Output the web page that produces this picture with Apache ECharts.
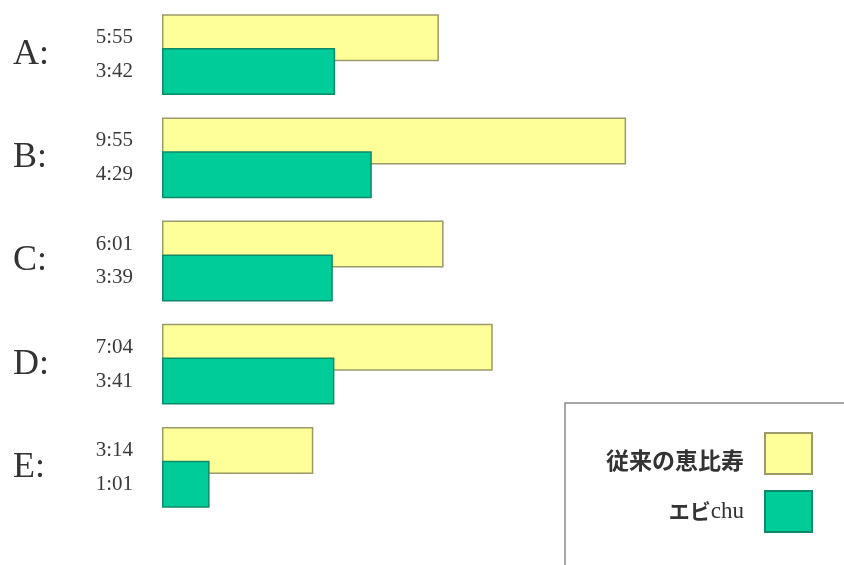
<!DOCTYPE html>
<html>
<head>
<meta charset="utf-8">
<script src="https://cdn.jsdelivr.net/npm/echarts@6/dist/echarts.min.js"></script>
<style>
  html, body { margin: 0; padding: 0; background: #fff; }
  #chart { width: 844px; height: 565px; }
</style>
</head>
<body>
<div id="chart"></div>
<script>
// Categories and durations in seconds
const categories = ['A:', 'B:', 'C:', 'D:', 'E:'];
const seriesNames = ['従来の恵比寿', 'エビchu'];
const conventional = [355, 595, 361, 424, 194]; // 5:55, 9:55, 6:01, 7:04, 3:14
const ebichu = [222, 269, 219, 221, 61];        // 3:42, 4:29, 3:39, 3:41, 1:01

function mmss(sec) {
  const m = Math.floor(sec / 60);
  const s = sec % 60;
  return m + ':' + (s < 10 ? '0' : '') + s;
}

const serif = '"Liberation Serif", "DejaVu Serif", serif';
const gothic = '"Noto Sans CJK JP", "Noto Sans", sans-serif';

const labelStyle = {
  show: true,
  position: 'left',
  distance: 29,
  fontFamily: serif,
  fontSize: 21,
  color: '#3a3a3a',
  formatter: p => mmss(p.value)
};

const chart = echarts.init(document.getElementById('chart'));
chart.setOption({
  animation: false,
  backgroundColor: '#ffffff',
  grid: { left: 162, top: 3, width: 624, height: 516 },
  xAxis: { type: 'value', min: 0, max: 800, show: false },
  yAxis: {
    type: 'category',
    data: categories,
    inverse: true,
    axisLine: { show: false },
    axisTick: { show: false },
    axisLabel: {
      align: 'left',
      margin: 149,
      fontFamily: serif,
      fontSize: 36,
      color: '#333333'
    }
  },
  legend: {
    orient: 'vertical',
    right: 26,
    top: 427,
    align: 'right',
    icon: 'rect',
    itemWidth: 47,
    itemHeight: 41,
    itemGap: 15,
    selectedMode: false,
    textStyle: {
      fontFamily: gothic,
      fontSize: 23,
      fontWeight: 'bold',
      color: '#333333',
      padding: [0, 16, 0, 0],
      rich: {
        old: { fontFamily: gothic, fontSize: 23, fontWeight: 'bold', color: '#333333', padding: [14, 0, 0, 0] },
        jp: { fontFamily: gothic, fontSize: 21, fontWeight: 'bold', color: '#333333' },
        en: { fontFamily: serif, fontSize: 23, fontWeight: 'normal', color: '#333333' }
      }
    },
    formatter: name => name === 'エビchu' ? '{jp|エビ}{en|chu}' : '{old|' + name + '}'
  },
  graphic: [{
    type: 'rect',
    shape: { x: 565, y: 403, width: 300, height: 200 },
    style: { fill: 'none', stroke: '#8a8a8a', lineWidth: 1.5 },
    z: -1
  }],
  series: [
    {
      name: seriesNames[0],
      type: 'bar',
      data: conventional,
      barWidth: 47,
      barGap: '-28%',
      itemStyle: { color: '#ffff99', borderColor: '#9a9a6a', borderWidth: 1.5 },
      label: labelStyle
    },
    {
      name: seriesNames[1],
      type: 'bar',
      data: ebichu,
      barWidth: 47,
      itemStyle: { color: '#00cc99', borderColor: '#0f8a68', borderWidth: 1.5 },
      label: labelStyle
    }
  ]
});
</script>
</body>
</html>
